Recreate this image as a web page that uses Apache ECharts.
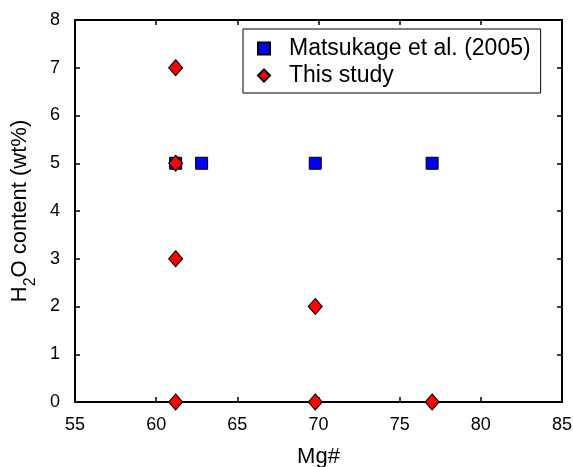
<!DOCTYPE html>
<html>
<head>
<meta charset="utf-8">
<script src="https://cdn.jsdelivr.net/npm/echarts@6/dist/echarts.min.js"></script>
<style>
  html, body { margin: 0; padding: 0; background: #fff; }
  #chart { width: 573px; height: 467px; }
</style>
</head>
<body>
<div id="chart"></div>
<script>
// Mg# and H2O content (wt%) of the experimental runs
const matsukageMg = [61.2, 62.8, 69.8, 77.0];
const matsukageH2O = [5, 5, 5, 5];
const thisStudyMg = [61.2, 61.2, 61.2, 61.2, 69.8, 69.8, 77.0];
const thisStudyH2O = [7, 5, 3, 0, 2, 0, 0];

const xTicks = { min: 55, max: 85, interval: 5 };
const yTicks = { min: 0, max: 8, interval: 1 };

const pairs = (xs, ys) => xs.map((x, i) => [x, ys[i]]);

const font = 'Liberation Sans, Arial, sans-serif';
const axisLine = { show: true, onZero: false, lineStyle: { color: '#000', width: 2 } };
const tickIn = { show: true, inside: true, length: 5, lineStyle: { color: '#000', width: 1.5 } };

const chart = echarts.init(document.getElementById('chart'));
chart.setOption({
  animation: false,
  backgroundColor: '#fff',
  grid: { left: 75, right: 11, top: 20, bottom: 65, containLabel: false, outerBoundsMode: 'none' },
  legend: {
    orient: 'vertical',
    left: 243,
    top: 29,
    width: 299,
    backgroundColor: '#fff',
    borderColor: '#000',
    borderWidth: 1,
    borderRadius: 0,
    padding: [8, 10, 6, 14],
    itemGap: 4,
    itemWidth: 12,
    itemHeight: 12,
    textStyle: { fontFamily: font, fontSize: 23, color: '#000', padding: [0, 0, 0, 14] },
    data: ['Matsukage et al. (2005)', 'This study']
  },
  xAxis: [
    {
      type: 'value', min: xTicks.min, max: xTicks.max, interval: xTicks.interval,
      name: 'Mg#', nameLocation: 'middle', nameGap: 44,
      nameTextStyle: { fontFamily: font, fontSize: 22, color: '#000' },
      axisLine, axisTick: tickIn, splitLine: { show: false },
      axisLabel: { fontFamily: font, fontSize: 18, color: '#000', margin: 14 }
    },
    {
      type: 'value', position: 'top', min: xTicks.min, max: xTicks.max, interval: xTicks.interval,
      axisLine, axisTick: tickIn, splitLine: { show: false }, axisLabel: { show: false }
    }
  ],
  yAxis: [
    {
      type: 'value', min: yTicks.min, max: yTicks.max, interval: yTicks.interval,
      name: '{a|H}{s|2}{a|O content (wt%)}', nameLocation: 'middle', nameGap: 33, nameRotate: 90,
      nameTextStyle: {
        fontFamily: font, fontSize: 22, color: '#000',
        rich: {
          a: { fontFamily: font, fontSize: 22, color: '#000', verticalAlign: 'top', lineHeight: 22 },
          s: { fontFamily: font, fontSize: 16, color: '#000', verticalAlign: 'bottom', lineHeight: 30 }
        }
      },
      axisLine, axisTick: tickIn, splitLine: { show: false },
      axisLabel: { fontFamily: font, fontSize: 18, color: '#000', margin: 15 }
    },
    {
      type: 'value', position: 'right', min: yTicks.min, max: yTicks.max, interval: yTicks.interval,
      axisLine, axisTick: tickIn, splitLine: { show: false }, axisLabel: { show: false }
    }
  ],
  series: [
    {
      name: 'Matsukage et al. (2005)',
      type: 'scatter',
      symbol: 'rect',
      symbolSize: 12,
      itemStyle: { color: '#0000ff', borderColor: '#000', borderWidth: 1, opacity: 1 },
      data: pairs(matsukageMg, matsukageH2O),
      z: 2
    },
    {
      name: 'This study',
      type: 'scatter',
      symbol: 'diamond',
      symbolSize: [14, 16],
      itemStyle: { color: '#ff0000', borderColor: '#000', borderWidth: 1, opacity: 1 },
      data: pairs(thisStudyMg, thisStudyH2O),
      z: 3
    }
  ]
});
</script>
</body>
</html>
